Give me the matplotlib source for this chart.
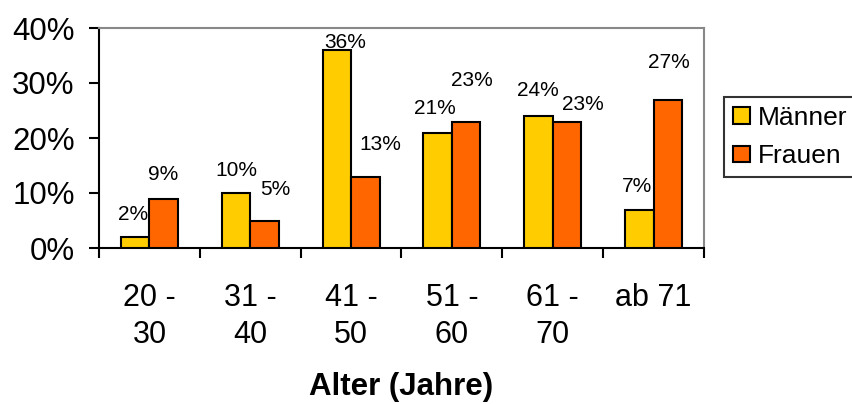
import matplotlib
matplotlib.use("Agg")
import matplotlib.pyplot as plt
import numpy as np
from matplotlib.ticker import FuncFormatter, FixedLocator

plt.rcParams['font.family'] = ['Liberation Sans', 'DejaVu Sans']

# ---- data ----
categories = ["20 -\n30", "31 -\n40", "41 -\n50", "51 -\n60", "61 -\n70", "ab 71"]
maenner = [2, 10, 36, 21, 24, 7]
frauen = [9, 5, 13, 23, 23, 27]
series_names = ["Männer", "Frauen"]
x_title = "Alter (Jahre)"

# ---- label offsets (pixels, relative to bar top centre) ----
m_dx = [-2, 0, 8, -3, -1, -2]
m_dy = [23, 23, 8, 24.5, 25, 23.5]
f_dx = [-1, 11, 15, 6, 16, 1]
f_dy = [23.5, 31, 31.5, 41.5, 17.5, 36.5]

W, H = 853, 404
dpi = 100
fig = plt.figure(figsize=(W / dpi, H / dpi), dpi=dpi)
left, right, top, bottom = 99, 704, 28, 248
ax = fig.add_axes([left / W, (H - bottom) / H, (right - left) / W, (bottom - top) / H])

yellow = "#FFCC00"
orange = "#FF6600"
n = len(categories)
x = np.arange(n) + 0.5
bw = 0.283
bars_m = ax.bar(x - bw / 2, [v / 100 for v in maenner], width=bw, color=yellow,
                edgecolor="black", linewidth=1.5, label=series_names[0], zorder=3)
bars_f = ax.bar(x + bw / 2, [v / 100 for v in frauen], width=bw, color=orange,
                edgecolor="black", linewidth=1.5, label=series_names[1], zorder=3)

for bars, vals, dxs, dys in ((bars_m, maenner, m_dx, m_dy), (bars_f, frauen, f_dx, f_dy)):
    for b, v, dx, dy in zip(bars, vals, dxs, dys):
        ax.annotate(f"{v}%", (b.get_x() + b.get_width() / 2, b.get_height()),
                    xytext=(dx, dy), textcoords="offset pixels",
                    ha="center", va="center", fontsize=15, zorder=5)

ax.set_xlim(0, n)
ax.set_ylim(0, 0.40)
ax.yaxis.set_major_locator(FixedLocator([0, 0.1, 0.2, 0.3, 0.4]))
ax.yaxis.set_major_formatter(FuncFormatter(lambda v, p: f"{round(v * 100)}%"))
ax.tick_params(axis="y", direction="out", length=7.5, width=1.5, labelsize=22.5, pad=10)

ax.xaxis.set_major_locator(FixedLocator(np.arange(n + 1)))
ax.xaxis.set_minor_locator(FixedLocator(x))
ax.xaxis.set_major_formatter(FuncFormatter(lambda v, p: ""))
ax.set_xticks(x, categories, minor=True)
ax.tick_params(axis="x", which="major", direction="out", length=7.5, width=1.5)
ax.tick_params(axis="x", which="minor", length=0, labelsize=22, pad=25)
for lbl in ax.get_xticklabels(minor=True):
    lbl.set_linespacing(1.3)

ax.spines["left"].set_color("black")
ax.spines["left"].set_linewidth(1.5)
ax.spines["bottom"].set_color("black")
ax.spines["bottom"].set_linewidth(1.5)
ax.spines["top"].set_color("#888888")
ax.spines["top"].set_linewidth(1.5)
ax.spines["right"].set_color("#888888")
ax.spines["right"].set_linewidth(1.5)

ax.set_xlabel(x_title, fontsize=22.5, fontweight="bold", va="center")
ax.xaxis.set_label_coords(0.5, (bottom - 387) / (bottom - top))

leg = fig.legend(handles=[bars_m, bars_f], labels=series_names, loc="upper left",
                 bbox_to_anchor=(724 / W, (H - 97) / H), fontsize=19,
                 frameon=True, fancybox=False, shadow=False, borderpad=0.33,
                 handlelength=0.64, handleheight=0.57, handletextpad=0.3,
                 labelspacing=0.55, borderaxespad=0)
leg.get_frame().set_edgecolor("black")
leg.get_frame().set_linewidth(1.5)

fig.savefig("out.png", dpi=dpi)
